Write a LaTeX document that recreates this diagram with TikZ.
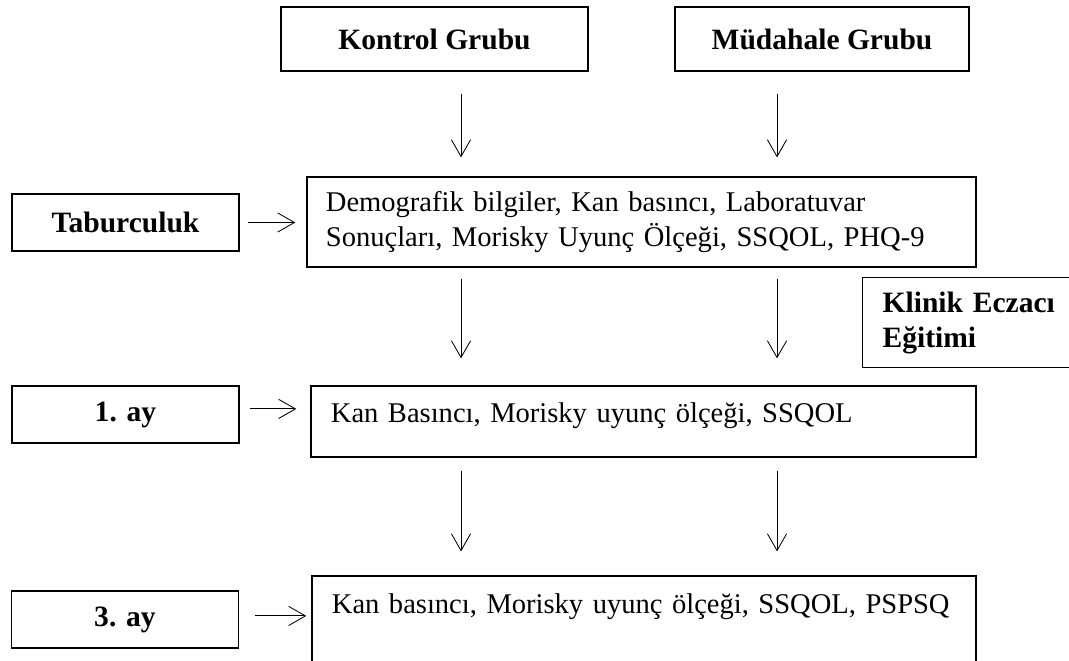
\documentclass[tikz,border=0pt]{standalone}
\usepackage{fontspec}
\setmainfont{Liberation Serif}
\usetikzlibrary{arrows.meta}

\begin{document}
\begin{tikzpicture}[x=0.025cm, y=-0.025cm,
  every node/.style = {font=\fontsize{20.3}{24.8}\selectfont},
  box/.style     = {draw, line width=0.9pt, inner sep=0pt},
  group/.style   = {box, font=\fontsize{21}{25}\selectfont\bfseries,
    minimum height=1.6cm},
  stage/.style   = {box, font=\fontsize{21}{25}\selectfont\bfseries,
    minimum width=5.675cm, minimum height=1.425cm},
  measure/.style = {box, align=left, inner xsep=0.5cm},
  arr/.style     = {-{Straight Barb[length=0.42cm, width=0.48cm]},
    line width=0.6pt},
  ]
  \useasboundingbox (0,0) rectangle (1069,660);

  \node[group, minimum width=7.675cm] (kontrol) at (434.5,39) {Kontrol Grubu};
  \node[group, minimum width=7.35cm] (mudahale) at (822,39) {Müdahale Grubu};

  \node[stage] (tabur) at (125.5,222.5) {Taburculuk};
  \node[stage] (ay1) at (125.5,414.5) {1. ay};
  \node[stage] (ay3) at (125,619.5) {3. ay};

  \node[measure, text width=15.775cm, inner xsep=0.475cm,
    minimum height=2.25cm] (demo) at (641.5,222)
    {Demografik bilgiler, Kan basıncı, Laboratuvar\\
     Sonuçları, Morisky Uyunç Ölçeği, SSQOL, PHQ-9};
  \node[measure, text width=15.625cm, minimum height=1.775cm,
    text height=0.55cm, text depth=0.5cm] (kan1) at (643.5,421.5)
    {Kan Basıncı, Morisky uyunç ölçeği, SSQOL};
  \node[measure, text width=15.6cm, minimum height=2.25cm,
    text height=0.55cm, text depth=0.95cm] (kan3) at (644,621)
    {Kan basıncı, Morisky uyunç ölçeği, SSQOL, PSPSQ};

  \node[box, font=\fontsize{21}{25}\selectfont\bfseries, align=left,
    text width=4.6cm, inner xsep=0.5cm, minimum height=2.25cm,
    anchor=north west] (klinik) at (862,277) {Klinik Eczacı\\Eğitimi};

  \coordinate (colA) at (461,0);
  \coordinate (colB) at (777,0);
  \foreach \col/\grp in {colA/kontrol, colB/mudahale}{
    \draw[arr, shorten <=0.55cm, shorten >=0.475cm]
      (\grp.south -| \col) -- (demo.north -| \col);
    \draw[arr, shorten <=0.275cm, shorten >=0.675cm]
      (demo.south -| \col) -- (kan1.north -| \col);
    \draw[arr, shorten <=0.325cm, shorten >=0.6cm]
      (kan1.south -| \col) -- (kan3.north -| \col);
  }

  \draw[arr, shorten <=0.2cm, shorten >=0.275cm] (tabur.east) -- (tabur.east -| demo.west);
  \draw[arr, shorten <=0.25cm, shorten >=0.35cm]
    ([yshift=0.14cm]ay1.east) -- ([yshift=0.14cm]ay1.east -| kan1.west);
  \draw[arr, shorten <=0.4cm, shorten >=0.125cm]
    ([yshift=0.09cm]ay3.east) -- ([yshift=0.09cm]ay3.east -| kan3.west);
\end{tikzpicture}
\end{document}
